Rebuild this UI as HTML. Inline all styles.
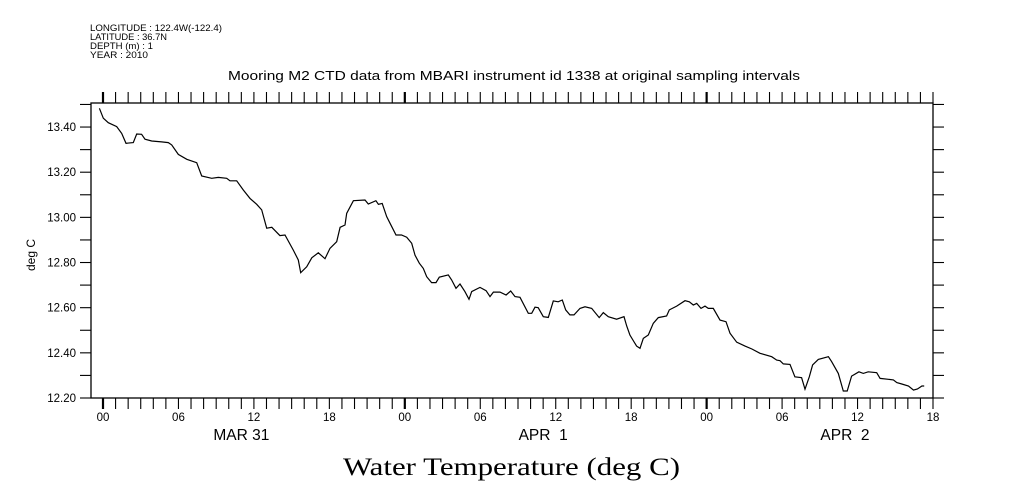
<!DOCTYPE html>
<html><head><meta charset="utf-8"><style>
body{margin:0;background:#fff;}
svg{display:block;font-family:"Liberation Sans",sans-serif;}
</style></head><body>
<svg id="chart" width="1009" height="504" viewBox="0 0 1009 504">
<g font-size="9" fill="#000">
<text x="90" y="31" textLength="132" lengthAdjust="spacingAndGlyphs">LONGITUDE : 122.4W(-122.4)</text>
<text x="90" y="40" textLength="77" lengthAdjust="spacingAndGlyphs">LATITUDE : 36.7N</text>
<text x="90" y="49" textLength="63" lengthAdjust="spacingAndGlyphs">DEPTH (m) : 1</text>
<text x="90" y="58" textLength="58" lengthAdjust="spacingAndGlyphs">YEAR : 2010</text>
</g>
<text x="228" y="80" font-size="13" textLength="572" lengthAdjust="spacingAndGlyphs">Mooring M2 CTD data from MBARI instrument id 1338 at original sampling intervals</text>
<text x="0" y="0" font-size="12" text-anchor="middle" transform="translate(35,255) rotate(-90)">deg C</text>
<text x="343" y="475" font-size="25" textLength="337" lengthAdjust="spacingAndGlyphs" font-family="'Liberation Serif',serif">Water Temperature (deg C)</text>
<rect x="91" y="103" width="842" height="295" fill="none" stroke="#000" stroke-width="1.3"/>
<g id="axes"></g>
<path id="line" fill="none" stroke="#000" stroke-width="1.2"/>
</svg>
<script>
const hours=[-0.29,0.02,0.42,1.09,1.49,1.83,2.41,2.68,3.07,3.34,3.87,4.66,5.19,5.46,5.99,6.66,7.45,7.85,8.64,9.17,9.84,10.1,10.63,11.16,11.69,12.22,12.62,13.02,13.42,14.07,14.47,15.13,15.53,15.72,16.2,16.6,17.12,17.65,18.05,18.58,18.85,19.24,19.38,19.91,20.83,21.1,21.7,21.9,22.2,22.56,22.82,23.3,23.74,24.15,24.55,24.81,25.15,25.47,25.74,26.13,26.48,26.74,27.46,27.72,28.07,28.39,28.78,29.1,29.32,29.98,30.46,30.77,31.04,31.57,32.05,32.42,32.76,33.16,33.82,34.09,34.35,34.61,35.01,35.41,35.81,36.2,36.52,36.79,37.13,37.45,37.93,38.33,38.86,39.46,39.78,40.18,40.84,41.43,41.64,41.9,42.43,42.7,42.96,43.36,43.76,44.16,44.82,45.03,45.62,46.28,46.62,46.94,47.21,47.55,47.87,48.13,48.53,49.06,49.54,49.86,50.39,51.05,51.6,52.24,53.17,53.57,53.83,54.1,54.63,55.02,55.55,55.82,56.16,56.43,56.88,57.68,57.94,58.47,58.87,59.18,59.53,60.11,60.46,60.85,61.52,61.79,62.45,62.85,63.12,63.52,64.05,64.45,64.77,65.12,65.3];
const temps=[13.483,13.439,13.419,13.402,13.372,13.328,13.331,13.369,13.368,13.346,13.338,13.334,13.331,13.321,13.279,13.257,13.242,13.183,13.173,13.177,13.173,13.162,13.162,13.121,13.084,13.058,13.033,12.952,12.956,12.919,12.922,12.855,12.811,12.755,12.781,12.821,12.843,12.817,12.863,12.892,12.956,12.966,13.018,13.074,13.077,13.059,13.074,13.058,13.062,13.003,12.974,12.922,12.922,12.912,12.885,12.833,12.797,12.774,12.737,12.711,12.711,12.735,12.745,12.723,12.686,12.705,12.671,12.637,12.671,12.69,12.675,12.649,12.669,12.669,12.656,12.674,12.649,12.646,12.575,12.575,12.602,12.6,12.56,12.557,12.63,12.626,12.634,12.59,12.568,12.568,12.597,12.604,12.597,12.556,12.578,12.56,12.549,12.56,12.519,12.479,12.43,12.42,12.464,12.479,12.531,12.556,12.563,12.59,12.607,12.631,12.626,12.612,12.619,12.597,12.607,12.597,12.597,12.545,12.538,12.487,12.447,12.43,12.417,12.398,12.383,12.368,12.365,12.351,12.349,12.294,12.29,12.239,12.294,12.346,12.371,12.383,12.361,12.309,12.231,12.231,12.297,12.316,12.309,12.316,12.312,12.287,12.283,12.28,12.268,12.262,12.253,12.235,12.24,12.253,12.253];
const yTickLabels=["12.20","12.40","12.60","12.80","13.00","13.20","13.40"];
const xTickLabels=["00","06","12","18","00","06","12","18","00","06","12","18"];
const dayLabels=["MAR 31","APR  1","APR  2"];
const dayCenters=[11,35,59];

const X=h=>103+h*(830/66);
const Y=v=>398-(v-12.2)*225.8;
const NS='http://www.w3.org/2000/svg';
const ax=document.getElementById('axes');
function mk(tag,attrs){const e=document.createElementNS(NS,tag);for(const k in attrs)e.setAttribute(k,attrs[k]);ax.appendChild(e);return e;}
for(let h=0;h<=66;h++){
  const x=X(h),day=h%24===0;
  const t=mk('line',{x1:x,x2:x,y1:398,y2:409,stroke:'#000','stroke-width':day?2.2:1.1});
  
  
  const t2=mk('line',{x1:x,x2:x,y1:103,y2:92,stroke:'#000','stroke-width':day?2.2:1.1});
  
  
}
xTickLabels.forEach((s,i)=>{
  const t=mk('text',{x:X(i*6),y:421,'font-size':11.5,'text-anchor':'middle'});t.textContent=s;
  
  
});
dayLabels.forEach((s,i)=>{
  const t=mk('text',{x:X(dayCenters[i]),y:440,'font-size':15.5,'text-anchor':'middle','xml:space':'preserve'});t.textContent=s;
  t.style.whiteSpace='pre';
  
  
});
for(let k=0;k<=13;k++){
  const v=12.2+k*0.1,y=Y(v);
  const a=mk('line',{x1:80,x2:91,y1:y,y2:y,stroke:'#000','stroke-width':1.1});
  
  
  const b=mk('line',{x1:933,x2:944,y1:y,y2:y,stroke:'#000','stroke-width':1.1});
  
  
}
yTickLabels.forEach(s=>{
  const t=mk('text',{x:76,y:Y(parseFloat(s))+4,'font-size':11.5,'text-anchor':'end'});t.textContent=s;
  
  
});
document.getElementById('line').setAttribute('d',hours.map((h,i)=>(i?'L':'M')+X(h).toFixed(1)+','+Y(temps[i]).toFixed(1)).join(''));
</script>
</body></html>
